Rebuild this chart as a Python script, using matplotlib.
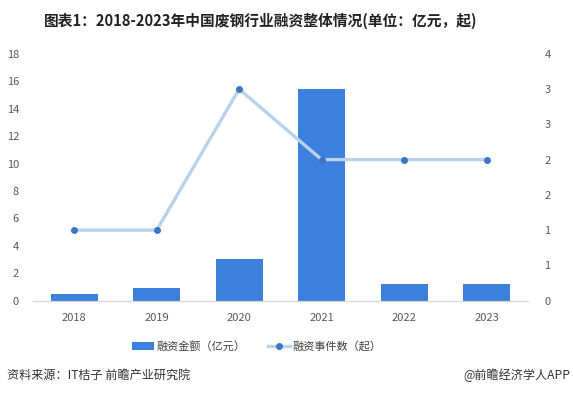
import matplotlib.pyplot as plt
from matplotlib.ticker import FuncFormatter, MultipleLocator

plt.rcParams['font.family'] = ['Noto Sans CJK SC', 'DejaVu Sans']

years = ['2018', '2019', '2020', '2021', '2022', '2023']
amount = [0.45, 0.93, 3.0, 15.4, 1.2, 1.2]     # 融资金额（亿元）
events = [1, 1, 3, 2, 2, 2]                    # 融资事件数（起）

bar_color = '#3d7fdc'
line_color = '#b8d2ec'
marker_color = '#3a76c4'
tick_color = '#595959'

fig = plt.figure(figsize=(5.73, 3.96), dpi=100)
ax = fig.add_axes([0.0576, 0.241, 0.8634, 0.623])
ax2 = ax.twinx()

x = range(len(years))
bars = ax.bar(x, amount, width=0.57, color=bar_color, label='融资金额（亿元）', zorder=2)
line, = ax2.plot(x, events, color=line_color, lw=2.4, marker='o', ms=4,
                 mfc=marker_color, mec=marker_color, label='融资事件数（起）', zorder=3)

ax.set_xlim(-0.5, len(years) - 0.5)
ax.set_ylim(0, 18)
ax.yaxis.set_major_locator(MultipleLocator(2))
# right axis runs 0-3.5 in 0.5 steps, labels rounded to whole numbers
ax2.set_ylim(0, 3.5)
ax2.yaxis.set_major_locator(MultipleLocator(0.5))
ax2.yaxis.set_major_formatter(FuncFormatter(lambda v, p: str(int(v + 0.5))))

ax.set_xticks(list(x))
ax.set_xticklabels(years)

for a in (ax, ax2):
    for s in ('top', 'left', 'right'):
        a.spines[s].set_visible(False)
    a.spines['bottom'].set_color('#d9d9d9')
    a.tick_params(length=0, labelsize=8, colors=tick_color)
ax.tick_params(axis='y', pad=10)
ax.tick_params(axis='x', pad=9)
ax2.tick_params(axis='y', pad=12)

fig.text(0.455, 0.948, '图表1：2018-2023年中国废钢行业融资整体情况(单位：亿元，起)',
         ha='center', va='center', fontsize=10.6, fontweight='bold', color='#222222')

fig.legend([bars, line], ['融资金额（亿元）', '融资事件数（起）'], loc='center',
           bbox_to_anchor=(0.448, 0.126), ncol=2, frameon=False, fontsize=8,
           handlelength=2.0, columnspacing=2.0, handletextpad=0.2,
           labelcolor='#404040')

fig.text(0.012, 0.052, '资料来源：IT桔子 前瞻产业研究院', ha='left', va='center',
         fontsize=8.7, color='#333333')
fig.text(0.995, 0.052, '@前瞻经济学人APP', ha='right', va='center',
         fontsize=8.7, color='#333333')

fig.savefig('out.png', dpi=100)
